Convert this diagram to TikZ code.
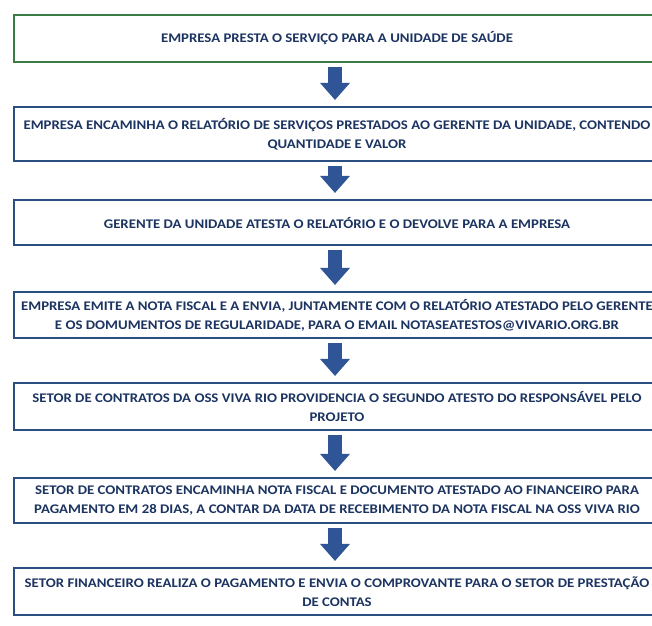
\documentclass[tikz,border=0pt]{standalone}
\usepackage{fontspec}
\newfontfamily\boxfont{Carlito}[FakeStretch=1.12]
\usetikzlibrary{arrows.meta}
\definecolor{txt}{HTML}{1C3461}
\definecolor{bord}{HTML}{2B4F80}
\definecolor{grn}{HTML}{3A7D44}
\definecolor{arr}{HTML}{2F5597}
\begin{document}
\begin{tikzpicture}[x=1pt,y=-1pt,
  box/.style={draw=bord, line width=2.2pt, minimum width=646pt, inner sep=0pt,
    font=\boxfont\bfseries\fontsize{13.2}{19}\selectfont, text=txt, align=center},
  flow/.style={draw=arr, line width=14pt,
    -{Triangle[width=30pt,length=17pt,line width=0pt]}}]
\clip (0,0) rectangle (652,625);
\fill[white] (0,0) rectangle (652,625);
\node[box, draw=grn, minimum height=47pt] (b1) at (337,38.5) {EMPRESA PRESTA O SERVIÇO PARA A UNIDADE DE SAÚDE};
\node[box, minimum height=54pt] (b2) at (337,134) {EMPRESA ENCAMINHA O RELATÓRIO DE SERVIÇOS PRESTADOS AO GERENTE DA UNIDADE, CONTENDO\\QUANTIDADE E VALOR};
\node[box, minimum height=45pt] (b3) at (337,222.5) {GERENTE DA UNIDADE ATESTA O RELATÓRIO E O DEVOLVE PARA A EMPRESA};
\node[box, minimum height=46pt] (b4) at (337,315) {EMPRESA EMITE A NOTA FISCAL E A ENVIA, JUNTAMENTE COM O RELATÓRIO ATESTADO PELO GERENTE\\E OS DOMUMENTOS DE REGULARIDADE, PARA O EMAIL NOTASEATESTOS@VIVARIO.ORG.BR};
\node[box, minimum height=47pt] (b5) at (337,406.5) {SETOR DE CONTRATOS DA OSS VIVA RIO PROVIDENCIA O SEGUNDO ATESTO DO RESPONSÁVEL PELO\\PROJETO};
\node[box, minimum height=45pt] (b6) at (337,500.5) {SETOR DE CONTRATOS ENCAMINHA NOTA FISCAL E DOCUMENTO ATESTADO AO FINANCEIRO PARA\\PAGAMENTO EM 28 DIAS, A CONTAR DA DATA DE RECEBIMENTO DA NOTA FISCAL NA OSS VIVA RIO};
\node[box, minimum height=47pt] (b7) at (337,591.5) {SETOR FINANCEIRO REALIZA O PAGAMENTO E ENVIA O COMPROVANTE PARA O SETOR DE PRESTAÇÃO\\DE CONTAS};
\foreach \a/\b in {b1/b2,b2/b3,b3/b4,b4/b5,b5/b6,b6/b7}
  \draw[flow] ([shift={(-2,4)}]\a.south) -- ([shift={(-2,-6)}]\b.north);
\end{tikzpicture}
\end{document}
